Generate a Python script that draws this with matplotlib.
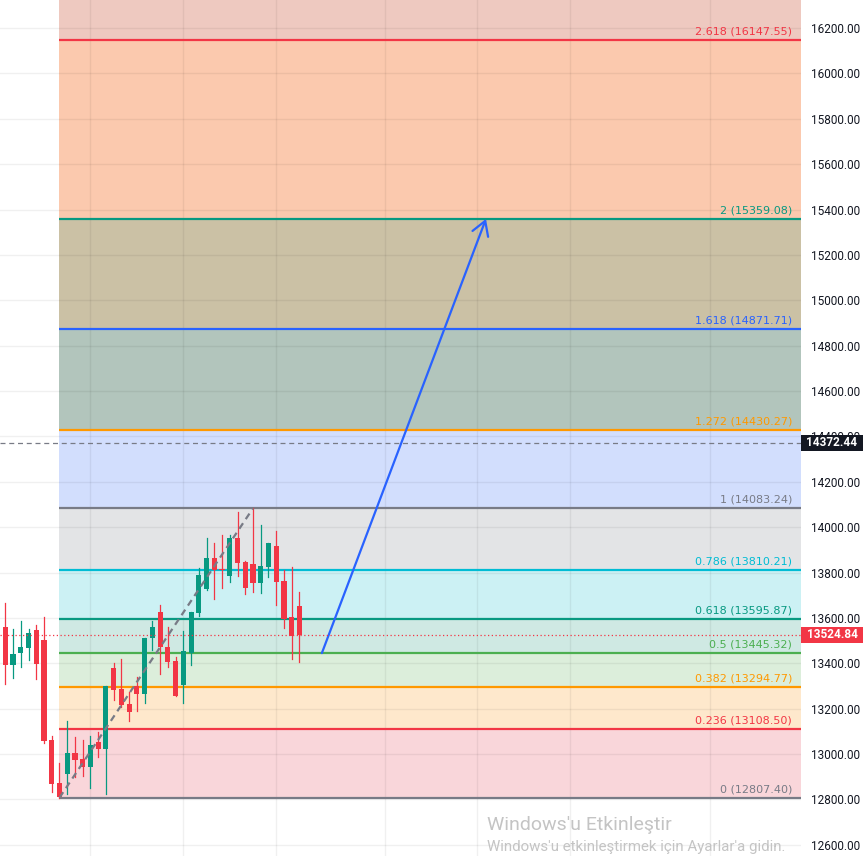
import matplotlib
matplotlib.use("Agg")
import matplotlib.pyplot as plt
import matplotlib.transforms as mtransforms
from matplotlib.patches import Rectangle

plt.rcParams['font.family'] = ['Roboto', 'DejaVu Sans']

# candles (O, H, L, C)
opens  = [13559, 13391, 13444, 13466, 13545, 13501, 13060, 12871, 12910, 13003,
          12976, 12941, 13051, 13020, 13378, 13285, 13219, 13298, 13263, 13510,
          13625, 13470, 13409, 13303, 13444, 13620, 13726, 13863, 13814, 13783,
          13951, 13845, 13836, 13753, 13823, 13916, 13761, 13603, 13651]
highs  = [13664, 13550, 13585, 13550, 13567, 13603, 13078, 12959, 13144, 13073,
          13060, 13078, 13095, 13298, 13400, 13417, 13272, 13338, 13510, 13585,
          13656, 13559, 13426, 13541, 13625, 13819, 13951, 13929, 13964, 13964,
          14066, 13850, 14083.24, 14008, 13929, 13982, 13810, 13823, 13713]
lows   = [13307, 13334, 13382, 13413, 13329, 13050, 12831, 12807.40, 12822, 12897,
          12901, 12849, 12985, 12826, 13237, 13206, 13144, 13188, 13223, 13457,
          13351, 13382, 13254, 13223, 13391, 13607, 13722, 13682, 13731, 13757,
          13783, 13704, 13713, 13708, 13779, 13656, 13554, 13417, 13404]
closes = [13391, 13439, 13470, 13532, 13395, 13056, 12866, 12812, 13003, 12972,
          12941, 13038, 13020, 13298, 13281, 13215, 13184, 13263, 13510, 13559,
          13470, 13404, 13254, 13453, 13625, 13788, 13863, 13810, 13810, 13951,
          13841, 13731, 13753, 13828, 13929, 13757, 13594, 13519, 13524.84]

# fibonacci extension levels
fib_ratios = [0, 0.236, 0.382, 0.5, 0.618, 0.786, 1, 1.272, 1.618, 2, 2.618]
fib_prices = [12807.40, 13108.50, 13294.77, 13445.32, 13595.87, 13810.21,
              14083.24, 14430.27, 14871.71, 15359.08, 16147.55]
fib_colors = ['#787B86', '#F23645', '#FF9800', '#4CAF50', '#089981', '#00BCD4',
              '#787B86', '#FF9800', '#2962FF', '#089981', '#F23645']
zone_colors = ['#F9D6DA', '#FEE8CC', '#DCEEDB', '#CFE9E3', '#CCF1F4', '#E3E4E6',
               '#D2DEFD', '#B2C5BC', '#CBC1A5', '#FBC9AE', '#EEC9C0']
fib_start = 7

trend = ([7, 32], [12807.40, 14083.24])
arrow_from = (40.9, 13445.0)
arrow_to = (62.1, 15359.08)

alert_price = 14372.44
last_price = 13524.84
yticks = list(range(12600, 16201, 200))
vgrid = [11, 23, 35, 49, 61, 73, 91]

GREEN = '#089981'
RED = '#F23645'

fig = plt.figure(figsize=(8.66, 8.56), dpi=100)
ax = fig.add_axes([0, 0, 801 / 866, 1])
xmin, xmax = -0.685, 102.8
ymin, ymax = 12550.5, 16323.9
ax.set_xlim(xmin, xmax)
ax.set_ylim(ymin, ymax)

for s in ax.spines.values():
    s.set_visible(False)
ax.set_xticks([])
ax.yaxis.tick_right()
ax.set_yticks(yticks)
ax.set_yticklabels([f'{v:.2f}' for v in yticks])
ax.tick_params(axis='y', length=0, pad=7, labelsize=8.5, labelcolor='#131722')

# zones
tops = fib_prices[1:] + [ymax]
for lo, hi, c in zip(fib_prices, tops, zone_colors):
    ax.fill_between([fib_start, xmax], lo, hi, color=c, lw=0, zorder=1)

# grid
for v in yticks:
    ax.axhline(v, color='black', alpha=0.06, lw=1, zorder=2)
for v in vgrid:
    ax.axvline(v, color='black', alpha=0.06, lw=1, zorder=2)

# fib lines and labels
for r, p, c in zip(fib_ratios, fib_prices, fib_colors):
    ax.plot([fib_start, xmax], [p, p], color=c, lw=1.6, zorder=3, solid_capstyle='butt')
    ax.annotate(f'{r:g} ({p:.2f})', xy=(792 / 801, p),
                xycoords=('axes fraction', 'data'), xytext=(0, 2.5),
                textcoords='offset points', ha='right', va='bottom',
                fontsize=8, color=c, zorder=6, family='DejaVu Sans')

# candles
for i, (o, h, l, c) in enumerate(zip(opens, highs, lows, closes)):
    col = GREEN if c >= o else RED
    ax.plot([i, i], [l, h], color=col, lw=0.9, zorder=4)
    ax.add_patch(Rectangle((i - 0.33, min(o, c)), 0.66, max(abs(c - o), 4),
                           facecolor=col, edgecolor='none', zorder=4))

# trend line
ax.plot(trend[0], trend[1], color='#787B86', lw=1.6, ls=(0, (3, 2.2)), zorder=5)

# arrow
ax.annotate('', xy=arrow_to, xytext=arrow_from,
            arrowprops=dict(arrowstyle='->,head_length=0.5,head_width=0.3',
                            color='#2962FF', lw=1.6, mutation_scale=20,
                            shrinkA=0, shrinkB=0), zorder=5)

# price lines
ax.axhline(alert_price, color='#787B86', lw=0.9, ls=(0, (4, 3)), zorder=5)
ax.axhline(last_price, color=RED, lw=0.9, ls=(0, (1, 2)), zorder=5)

# price tags on the axis
trans = mtransforms.blended_transform_factory(ax.transAxes, ax.transData)
half = 8 / 0.22685
for price, bg in [(alert_price, '#131722'), (last_price, RED)]:
    ax.add_patch(Rectangle((1.0, price - half), 62 / 801, 2 * half,
                           transform=trans, facecolor=bg, edgecolor='none',
                           clip_on=False, zorder=10))
    ax.text(1.0 + 31 / 801, price, f'{price:.2f}', transform=trans,
            ha='center', va='center', fontsize=8.5, fontweight='bold',
            color='white', zorder=11, clip_on=False)

# windows watermark
fig.text(487 / 866, 1 - 830 / 856, "Windows'u Etkinleştir", fontsize=14,
         color='#C4C4C4', ha='left', va='baseline')
fig.text(487 / 866, 1 - 851 / 856, "Windows'u etkinleştirmek için Ayarlar'a gidin.",
         fontsize=10.8, color='#C4C4C4', ha='left', va='baseline')

fig.savefig('out.png', dpi=100, facecolor='white')
